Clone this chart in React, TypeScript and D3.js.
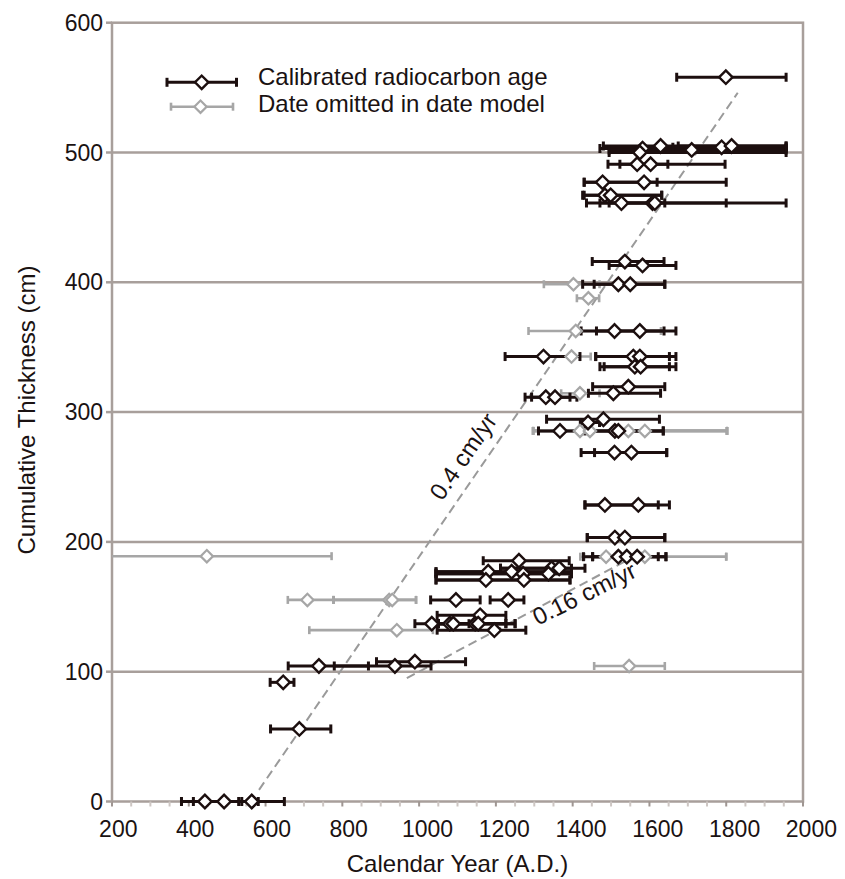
import React from "react";
import * as d3 from "d3";

// ---- Data ----
// Calibrated radiocarbon ages (black)
const blackAge = [
  1799,
  1582, 1629, 1710, 1788, 1814, 1575,
  1568, 1603,
  1478, 1586,
  1484, 1499,
  1527, 1608, 1614,
  1536, 1582,
  1519, 1550,
  1509, 1575,
  1324, 1558, 1575,
  1562, 1577,
  1545,
  1506,
  1330, 1354,
  1480, 1440,
  1367, 1510, 1519,
  1509, 1553,
  1484, 1571,
  1510, 1536,
  1519, 1541, 1568,
  1260,
  1345, 1365,
  1180, 1241,
  1271, 1337,
  1174, 1273,
  1096, 1232,
  1159,
  1033, 1080, 1089, 1146, 1154,
  1196,
  989,
  739, 937,
  646,
  688,
  442, 492, 564,
];
const blackDepth = [
  558,
  503, 505, 502, 504, 505, 500,
  491, 491,
  477, 477,
  467, 467,
  461, 461, 461,
  416, 413,
  398.5, 398.5,
  362.5, 362.5,
  342.8, 342.8, 342.8,
  335, 335,
  319.6,
  314.5,
  311.5, 311.5,
  294.5, 292,
  285.5, 285.5, 285.5,
  268.8, 268.8,
  228.5, 228.5,
  203.3, 203.3,
  188.6, 188.6, 188.6,
  185.5,
  179.7, 179.7,
  177, 177,
  175.5, 175.5,
  170.7, 170.7,
  155.3, 155.3,
  143.4,
  137, 137, 137, 137, 137,
  132,
  107.7,
  104.4, 104.4,
  91.8,
  55.9,
  0, 0, 0,
];
const blackMin = [
  1671,
  1471, 1480, 1495, 1661, 1675, 1495,
  1492, 1523,
  1430, 1430,
  1426, 1430,
  1471, 1436, 1495,
  1451, 1495,
  1426, 1456,
  1422, 1462,
  1224, 1460, 1460,
  1471, 1482,
  1452,
  1441,
  1276, 1293,
  1332, 1420,
  1311, 1445, 1445,
  1422, 1457,
  1432, 1432,
  1438, 1438,
  1428, 1452, 1452,
  1167,
  1212, 1212,
  1044, 1044,
  1044, 1044,
  1044, 1044,
  1030, 1185,
  1047,
  989, 1050, 1050, 1050, 1050,
  1047,
  889,
  659, 779,
  612,
  613,
  381, 412, 530,
];
const blackMax = [
  1956,
  1956, 1956, 1956, 1956, 1956, 1956,
  1648, 1797,
  1620, 1800,
  1632, 1632,
  1640, 1800, 1956,
  1638, 1669,
  1640, 1640,
  1638, 1669,
  1419, 1652, 1669,
  1652, 1669,
  1640,
  1629,
  1393, 1411,
  1626, 1470,
  1432, 1636, 1636,
  1645, 1645,
  1623, 1652,
  1640, 1640,
  1623, 1643, 1643,
  1391,
  1432, 1397,
  1397, 1397,
  1397, 1397,
  1393, 1393,
  1159, 1273,
  1226,
  1130, 1226, 1250, 1250, 1226,
  1278,
  1121,
  868, 1031,
  674,
  770,
  538, 581, 649,
];

// Dates omitted in the date model (grey)
const grayAge = [1402, 1441, 1408, 1397, 1419, 1419, 1445, 1545, 1588, 1487, 1588, 447, 709, 922, 930, 942, 1547];
const grayDepth = [398.5, 387.7, 362.5, 342.8, 314.5, 285.5, 285.5, 285.5, 285.5, 188.6, 188.6, 189, 155.3, 155.3, 155.3, 132, 104.4];
const grayMin = [1325, 1411, 1285, 1330, 1370, 1297, 1297, 1297, 1297, 1420, 1430, 120, 658, 777, 777, 714, 1456];
const grayMax = [1470, 1469, 1630, 1447, 1470, 1802, 1802, 1802, 1802, 1800, 1800, 772, 777, 992, 992, 1036, 1640];

// Sedimentation-rate guide lines
const rateFastYears = [583, 1830];
const rateFastDepths = [9, 546];
const rateSlowYears = [968, 1580];
const rateSlowDepths = [95, 192];
const rateLabels = ["0.4 cm/yr", "0.16 cm/yr"];

const xTicks = [200, 400, 600, 800, 1000, 1200, 1400, 1600, 1800, 2000];
const xMinorTicks = d3.range(200, 2001, 50);
const yTicks = [0, 100, 200, 300, 400, 500, 600];

const legendLabels = ["Calibrated radiocarbon age", "Date omitted in date model"];

const BLACK = "#1c0f0f";
const GRAY = "#a6a6a6";
const GRID = "#a89f9b";
const TEXT = "#1a1212";
const DASH = "#9a9a9a";
const FONT = "'Liberation Sans', Arial, Helvetica, sans-serif";

export default function App() {
  const W = 845;
  const H = 879;
  const left = 112;
  const right = 803;
  const top = 22.7;
  const bottom = 801.5;

  const x = d3.scaleLinear().domain([200, 2000]).range([left, right]);
  const y = d3.scaleLinear().domain([0, 600]).range([bottom, top]);

  const diamond = d3.symbol(d3.symbolSquare, 90)();
  const diamondSmall = d3.symbol(d3.symbolSquare, 76)();

  const lineGen = d3.line<number[]>().x((d) => x(d[0])).y((d) => y(d[1]));
  const fastPath = lineGen(rateFastYears.map((yr, i) => [yr, rateFastDepths[i]]));
  const slowPath = lineGen(rateSlowYears.map((yr, i) => [yr, rateSlowDepths[i]]));

  const angleOf = (ys: number[], ds: number[]) =>
    (Math.atan2(y(ds[1]) - y(ds[0]), x(ys[1]) - x(ys[0])) * 180) / Math.PI;
  const fastAngle = angleOf(rateFastYears, rateFastDepths);
  const slowAngle = angleOf(rateSlowYears, rateSlowDepths);

  const errBar = (
    lo: number,
    hi: number,
    d: number,
    color: string,
    sw: number,
    capH: number,
    key: string
  ) => {
    const yy = y(d);
    return (
      <g key={key} stroke={color} strokeWidth={sw} fill="none">
        <line x1={x(lo)} x2={x(hi)} y1={yy} y2={yy} />
        <line x1={x(lo)} x2={x(lo)} y1={yy - capH / 2} y2={yy + capH / 2} />
        <line x1={x(hi)} x2={x(hi)} y1={yy - capH / 2} y2={yy + capH / 2} />
      </g>
    );
  };

  return (
    <svg
      width={W}
      height={H}
      style={{ position: "absolute", left: 0, top: 0, background: "#fff" }}
      fontFamily={FONT}
    >
      <defs>
        <clipPath id="plotClip">
          <rect x={left} y={top - 10} width={right - left + 10} height={bottom - top + 20} />
        </clipPath>
      </defs>
      {/* gridlines */}
      {yTicks
        .filter((t) => t > 0 && t < 600)
        .map((t) => (
          <line key={"g" + t} x1={left} x2={right} y1={y(t)} y2={y(t)} stroke={GRID} strokeWidth={2.5} />
        ))}
      {/* plot border */}
      <rect x={left} y={top} width={right - left} height={bottom - top} fill="none" stroke={GRID} strokeWidth={2.5} />

      {/* x ticks */}
      {xMinorTicks.map((t) => (
        <line
          key={"xt" + t}
          x1={x(t)}
          x2={x(t)}
          y1={bottom}
          y2={bottom + 5}
          stroke={t % 200 === 0 ? "#9f9692" : "#cdc6c3"}
          strokeWidth={2}
        />
      ))}
      {xTicks.map((t) => (
        <text
          key={"xl" + t}
          x={x(t) + String(t).length * 2.1}
          y={837}
          textAnchor="middle"
          fontSize={23}
          fill={TEXT}
        >
          {t}
        </text>
      ))}
      {/* y ticks */}
      {yTicks.map((t) => (
        <g key={"yt" + t}>
          <line x1={left - 6} x2={left} y1={y(t)} y2={y(t)} stroke={GRID} strokeWidth={2.5} />
          <text x={103} y={y(t)} dy="0.35em" textAnchor="end" fontSize={23} fill={TEXT}>
            {t}
          </text>
        </g>
      ))}

      {/* axis titles */}
      <text x={(left + right) / 2} y={872} textAnchor="middle" fontSize={24} fill={TEXT}>
        Calendar Year (A.D.)
      </text>
      <text
        transform={`translate(35, ${(top + bottom) / 2 - 2}) rotate(-90)`}
        textAnchor="middle"
        fontSize={24}
        fill={TEXT}
      >
        Cumulative Thickness (cm)
      </text>

      {/* rate lines */}
      <path d={fastPath || ""} stroke={DASH} strokeWidth={2} strokeDasharray="9,5" fill="none" />
      <path d={slowPath || ""} stroke={DASH} strokeWidth={2} strokeDasharray="9,5" fill="none" />
      <text
        transform={`translate(470, 461) rotate(${fastAngle})`}
        textAnchor="middle"
        fontSize={24}
        fill={TEXT}
      >
        {rateLabels[0]}
      </text>
      <text
        transform={`translate(588, 601) rotate(${slowAngle + 2})`}
        textAnchor="middle"
        fontSize={24}
        fill={TEXT}
      >
        {rateLabels[1]}
      </text>

      <g clipPath="url(#plotClip)">
        {/* grey error bars */}
        {grayAge.map((a, i) => errBar(grayMin[i], grayMax[i], grayDepth[i], GRAY, 2.6, 8, "gb" + i))}
        {/* black error bars */}
        {blackAge.map((a, i) => errBar(blackMin[i], blackMax[i], blackDepth[i], BLACK, 3, 9, "bb" + i))}
        {/* grey markers */}
        {grayAge.map((a, i) => (
          <path
            key={"gm" + i}
            d={diamondSmall || ""}
            transform={`translate(${x(a)}, ${y(grayDepth[i])}) rotate(45)`}
            fill="#fff"
            stroke={GRAY}
            strokeWidth={2.2}
          />
        ))}
        {/* black markers */}
        {blackAge.map((a, i) => (
          <path
            key={"bm" + i}
            d={diamond || ""}
            transform={`translate(${x(a)}, ${y(blackDepth[i])}) rotate(45)`}
            fill="#fff"
            stroke={BLACK}
            strokeWidth={2.4}
          />
        ))}
      </g>

      {/* legend */}
      <g>
        <line x1={167} x2={236.5} y1={82.3} y2={82.3} stroke={BLACK} strokeWidth={3} />
        <line x1={167} x2={167} y1={77.8} y2={86.8} stroke={BLACK} strokeWidth={3} />
        <line x1={236.5} x2={236.5} y1={77.8} y2={86.8} stroke={BLACK} strokeWidth={3} />
        <path d={diamond || ""} transform="translate(201.7, 82.3) rotate(45)" fill="#fff" stroke={BLACK} strokeWidth={2.4} />
        <text x={258} y={85} fontSize={24} fill={TEXT}>
          {legendLabels[0]}
        </text>
        <line x1={171} x2={233} y1={106.7} y2={106.7} stroke={GRAY} strokeWidth={2.6} />
        <line x1={171} x2={171} y1={102.7} y2={110.7} stroke={GRAY} strokeWidth={2.6} />
        <line x1={233} x2={233} y1={102.7} y2={110.7} stroke={GRAY} strokeWidth={2.6} />
        <path d={diamondSmall || ""} transform="translate(200.5, 106.7) rotate(45)" fill="#fff" stroke={GRAY} strokeWidth={2.2} />
        <text x={258} y={112} fontSize={24} fill={TEXT}>
          {legendLabels[1]}
        </text>
      </g>
    </svg>
  );
}
